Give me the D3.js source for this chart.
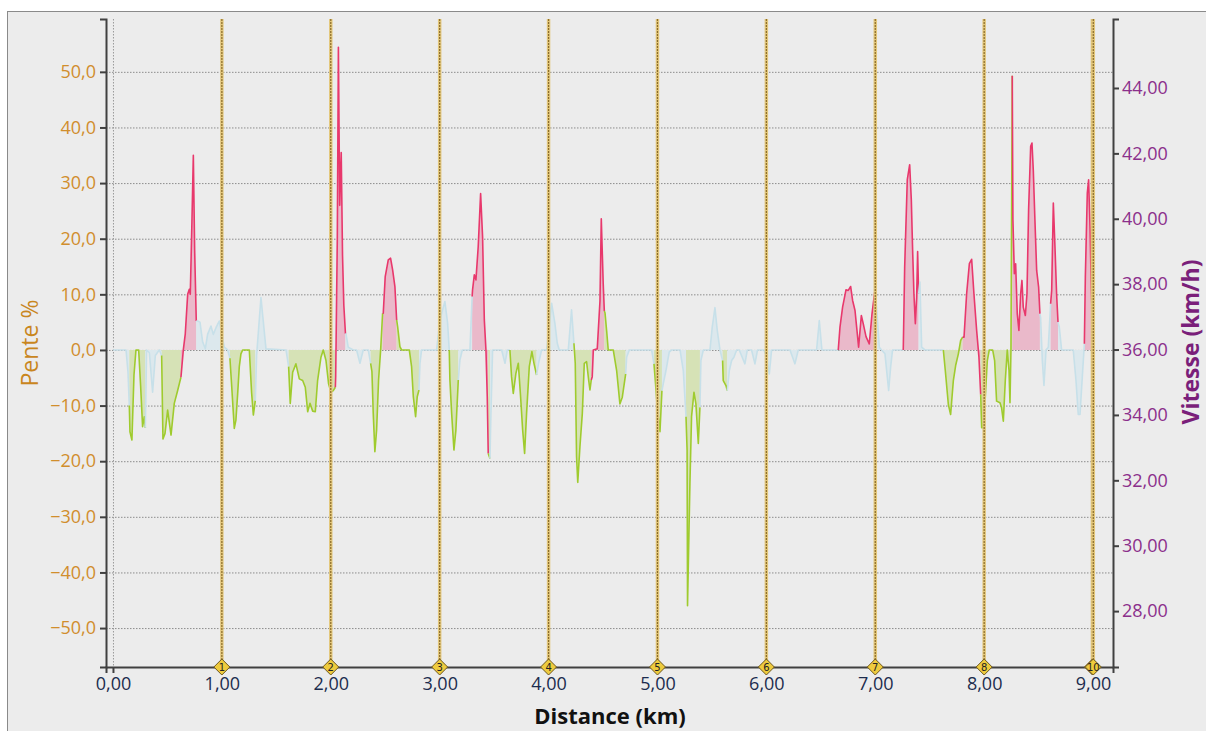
<!DOCTYPE html>
<html>
<head>
<meta charset="utf-8">
<script src="https://cdn.jsdelivr.net/npm/d3@7"></script>
<style>
  body { margin: 0; background: #fff; font-family: "Open Sans", "Noto Sans", sans-serif; }
</style>
</head>
<body>
<div class="main"></div>
<script>
// Distance (km), slope (%) and colour zone per point: b = flat, g = down, r = up
const km = [
  0.00, 0.12, 0.138, 0.15, 0.156, 0.174, 0.193, 0.211, 0.236, 0.254, 0.272, 0.288, 0.297,
  0.309, 0.334, 0.364, 0.389, 0.425, 0.447, 0.459, 0.478, 0.502, 0.533, 0.563, 0.594, 0.624,
  0.627, 0.646, 0.664, 0.686, 0.701, 0.710, 0.725, 0.738, 0.750, 0.765,
  0.777, 0.799, 0.823, 0.848, 0.869, 0.900, 0.921, 0.946, 0.976, 1.001, 1.022, 1.053, 1.074,
  1.087, 1.114, 1.129, 1.145, 1.160, 1.175, 1.191, 1.252, 1.273, 1.289, 1.307,
  1.319, 1.338, 1.359, 1.380, 1.405, 1.589, 1.613,
  1.628, 1.650, 1.680, 1.711, 1.742, 1.766, 1.788, 1.809, 1.834, 1.858, 1.879, 1.910, 1.931,
  1.956, 1.980, 2.002, 2.023, 2.042,
  2.045, 2.060, 2.070, 2.082, 2.096, 2.108, 2.120, 2.135,
  2.140, 2.160, 2.207, 2.237, 2.268, 2.298, 2.344, 2.366,
  2.378, 2.390, 2.405, 2.421, 2.439, 2.458, 2.476,
  2.482, 2.500, 2.528, 2.549, 2.568, 2.589, 2.605,
  2.614, 2.635, 2.650, 2.721, 2.742, 2.758, 2.779, 2.794, 2.810,
  2.819, 2.834, 2.972, 3.002, 3.048, 3.073, 3.088,
  3.094, 3.110, 3.131, 3.149, 3.171,
  3.186, 3.208, 3.278, 3.298,
  3.302, 3.318, 3.333, 3.354, 3.376, 3.394, 3.410, 3.425, 3.437, 3.446,
  3.462, 3.470, 3.486, 3.569, 3.600, 3.621, 3.645,
  3.660, 3.676, 3.700, 3.722, 3.743, 3.762, 3.780, 3.798, 3.823, 3.847, 3.866, 3.890,
  3.908, 3.936, 3.982, 4.028, 4.058, 4.080, 4.098, 4.181, 4.211, 4.233,
  4.245, 4.257, 4.268, 4.288, 4.310, 4.328, 4.349, 4.368, 4.380, 4.392,
  4.401, 4.411, 4.447, 4.472, 4.484, 4.502, 4.512,
  4.518, 4.533, 4.548, 4.594, 4.625, 4.655, 4.677, 4.708,
  4.717, 4.741, 4.946, 4.968,
  4.980, 4.998, 5.023, 5.041,
  5.053, 5.078, 5.108, 5.130, 5.207, 5.237, 5.262,
  5.272, 5.276, 5.298, 5.313, 5.335, 5.353, 5.375, 5.390,
  5.399, 5.421, 5.482, 5.503, 5.528, 5.549, 5.574, 5.598,
  5.604, 5.629, 5.641,
  5.660, 5.681, 5.702, 5.727, 5.751, 5.803, 5.825, 5.864, 5.895, 5.919, 5.978, 6.002, 6.027,
  6.048, 6.217, 6.262, 6.293, 6.461, 6.486, 6.510, 6.660,
  6.676, 6.700, 6.731, 6.752, 6.774, 6.792, 6.814, 6.829, 6.847, 6.872, 6.890, 6.915, 6.945,
  6.970, 6.997,
  7.012, 7.037, 7.058, 7.089, 7.123, 7.141, 7.159, 7.257,
  7.270, 7.294, 7.316, 7.331, 7.343, 7.355, 7.368, 7.380, 7.389, 7.398,
  7.410, 7.426, 7.456, 7.625,
  7.643, 7.671, 7.692, 7.717, 7.738, 7.763, 7.784, 7.802,
  7.815, 7.839, 7.864, 7.885, 7.906, 7.931, 7.952, 7.968,
  7.977, 7.992, 8.010, 8.029, 8.047, 8.078, 8.096, 8.114, 8.145, 8.160, 8.176, 8.194, 8.212,
  8.228, 8.237, 8.246, 8.258,
  8.264, 8.277, 8.289, 8.304, 8.319, 8.335, 8.347, 8.359, 8.378, 8.393, 8.408, 8.427, 8.439,
  8.451, 8.466, 8.482, 8.500, 8.512,
  8.518, 8.534, 8.549, 8.568, 8.589, 8.610,
  8.620, 8.635, 8.650, 8.665, 8.678,
  8.690, 8.711, 8.818, 8.843, 8.864, 8.880, 8.901, 8.920,
  8.929, 8.947, 8.959, 8.972, 8.984, 8.995
]
const pente = [
  0, 0, -4, -10, -14.7, -16.2, -4.5, 0, 0, -6.5, -13.8, -12, -14,
  0, -0.5, -7.6, -1, 0, -1, -16, -15, -10.8, -15.3, -9.6, -7.3, -4.9,
  -4.3, 0, 2.9, 10, 10.9, 10, 23, 35, 18, 5.2,
  5.2, 5, 1.5, 0.2, 2.8, 4.3, 2.8, 4, 5.2, 2.8, 0.5, 0, -1.5,
  -5.5, -14.1, -12.6, -7.9, -3, -0.7, 0, 0, -7.7, -11.7, -9.1,
  -1, 4, 9.4, 5.2, 0.2, 0, -3,
  -9.6, -4, -2.5, -5.2, -5.5, -6.7, -11.1, -9.6, -11.0, -11.1, -5.5, -1.3, 0,
  -1.9, -6.1, -7.6, -7.3, -6.7,
  -4.9, 20, 54.4, 26, 35.5, 17, 8, 2.9,
  2.9, 0.5, 0, 0, -2.4, 0, 0, -2.4,
  -3.9, -11.4, -18.3, -14.4, -5.4, 0, 6.6,
  6.6, 13.2, 16.2, 16.5, 14.4, 11.4, 5.4,
  4.2, 0.6, 0, 0, -3, -8.4, -12, -8.4, -7.2,
  -2.4, 0, 0, 5.4, 8.7, 4.8, 0,
  -5.4, -11.4, -18, -14.4, -5.4,
  -1.8, 0, 0, 9.6,
  10.8, 13.5, 12.6, 18.6, 28.1, 20.4, 5.4, 0, -8.4, -18.6,
  -19.5, -12, 0, 0, -2.4, 0, 0,
  -4.8, -7.8, -4.2, -2.4, -8.4, -14.4, -18.6, -11.4, -3, -0.3, -2.4, -4.5,
  -2.4, 0, 0, 8.4, 4.8, 1.2, 0, 0, 7.2, 1.2,
  -2.4, -19.2, -23.8, -17.4, -11.4, -2.4, -2.1, -5.4, -7.2, -5.4,
  -4.8, 0, 0.2, 8.8, 23.6, 11.8, 7,
  6.7, 3.5, 0, 0, -3.7, -9.7, -8.5, -4.3,
  -1.3, 0, 0, -2.5,
  -5.5, -10.3, -14.7, -7.3,
  -6.1, -3.7, -0.4, 0, 0, -3.7, -12,
  -18, -46, -24, -12, -7.6, -9.7, -16.8, -10.3,
  -1.9, 0, 0, 4.1, 7.6, 3.5, 0, -1.9,
  -5.5, -6.4, -7.3,
  -3.7, -1.9, -1.3, 0, 0, -2.5, 0, 0, -2.5, 0, 0, -1.3, -4.3,
  0, 0, -2.5, 0, 0, 5.3, 0, 0,
  4.1, 7.7, 10.8, 10.7, 11.4, 8.9, 7.1, 4.1, 0.5, 6.2, 4.7, 2.4, 1.1,
  6.5, 10.7,
  7.7, 0.5, 0, -0.7, -7.3, -3.1, 0, 0,
  14.9, 30.6, 33.3, 27, 18, 10.1, 4.7, 9.5, 17.7, 10.1,
  12.2, 0.5, 0, 0,
  -3.7, -9.8, -11.6, -5.5, -2.8, -0.7, 1.7, 2.3,
  2.3, 10.1, 15.5, 16.3, 10.1, 3.5, -1.3, -8,
  -14, -14, -8.6, -1.9, 0, 0, -1.9, -9.2, -9.5, -10.4, -12.8, -5.5, 0,
  -3.7, -9.5, 0, 49.3,
  23.4, 13.7, 15.5, 6.5, 3.5, 10.1, 12.5, 7.7, 6.2, 10.1, 25.2, 36.6, 37.2,
  32.4, 23.4, 14.3, 11.3, 6.5,
  5.9, -1.9, -6.4, 0, 0.5, 8.3,
  10.7, 26.4, 18.6, 10.1, 5,
  4.1, 0, 0, -5.5, -11.6, -11.6, -4.9, 1.1,
  13.1, 28.2, 30.6, 22.2, 10.7, 4
]
const zone = [
  "b","b","b","b","g","g","g","g","g","g","g","g","g",
  "b","b","b","b","b","b","g","g","g","g","g","g","g",
  "r","r","r","r","r","r","r","r","r","r",
  "b","b","b","b","b","b","b","b","b","b","b","b","b",
  "g","g","g","g","g","g","g","g","g","g","g",
  "b","b","b","b","b","b","b",
  "g","g","g","g","g","g","g","g","g","g","g","g","g",
  "g","g","g","g","g",
  "r","r","r","r","r","r","r","r",
  "b","b","b","b","b","b","b","b",
  "g","g","g","g","g","g","g",
  "r","r","r","r","r","r","r",
  "g","g","g","g","g","g","g","g","g",
  "b","b","b","b","b","b","b",
  "g","g","g","g","g",
  "b","b","b","b",
  "r","r","r","r","r","r","r","r","r","r",
  "g","b","b","b","b","b","b",
  "g","g","g","g","g","g","g","g","g","g","g","g",
  "b","b","b","b","b","b","b","b","b","b",
  "g","g","g","g","g","g","g","g","g","g",
  "r","r","r","r","r","r","r",
  "g","g","g","g","g","g","g","g",
  "b","b","b","b",
  "g","g","g","g",
  "b","b","b","b","b","b","b",
  "g","g","g","g","g","g","g","g",
  "b","b","b","b","b","b","b","b",
  "g","g","g",
  "b","b","b","b","b","b","b","b","b","b","b","b","b",
  "b","b","b","b","b","b","b","b",
  "r","r","r","r","r","r","r","r","r","r","r","r","r",
  "r","r",
  "b","b","b","b","b","b","b","b",
  "r","r","r","r","r","r","r","r","r","r",
  "b","b","b","b",
  "g","g","g","g","g","g","g","g",
  "r","r","r","r","r","r","r","r",
  "g","g","g","g","g","g","g","g","g","g","g","g","g",
  "g","g","g","g",
  "r","r","r","r","r","r","r","r","r","r","r","r","r",
  "r","r","r","r","r",
  "b","b","b","b","b","b",
  "r","r","r","r","r",
  "b","b","b","b","b","b","b","b",
  "r","r","r","r","r","r"
]

// Lap markers
const lapKm = [1, 2, 3, 4, 5, 6, 7, 8, 8.994, 9.002]
const lapLabels = ["1", "2", "3", "4", "5", "6", "7", "8", "9", "10"]

// Axis ticks
const penteTicks = [-50, -40, -30, -20, -10, 0, 10, 20, 30, 40, 50]
const vitesseTicks = [28, 30, 32, 34, 36, 38, 40, 42, 44]
const kmTicks = [0, 1, 2, 3, 4, 5, 6, 7, 8, 9]

const width = 1206
const height = 731
const margin = ({top: 19, right: 93, bottom: 64, left: 106})

const x = d3.scaleLinear()
  .domain([-0.064, 9.183])
  .range([margin.left, width - margin.right])

const y = d3.scaleLinear()
  .domain([-57, 59.5])
  .range([height - margin.bottom, margin.top])

// speed axis shares the zero line with the slope axis (36 km/h)
const y2 = d3.scaleLinear()
  .domain([26.29, 46.11])
  .range([height - margin.bottom, margin.top])

const colors = {
  r: {line: "#e8386c", fill: "#eab9ca"},
  g: {line: "#9fcb2e", fill: "#d6e2b6"},
  b: {line: "#c7e0e9", fill: "#dce8ed"}
}

const fmt1 = d => d3.format(".1f")(d).replace(".", ",")
const fmt2 = d => d3.format(".2f")(d).replace(".", ",")

const svg = d3.select(".main")
  .append("svg")
    .attr("width", width)
    .attr("height", height)
    .style("display", "block")

// panel
svg.append("rect")
  .attr("x", 7.5).attr("y", 11.5)
  .attr("width", width).attr("height", height)
  .attr("fill", "#ececec")
  .attr("stroke", "#8a8a8a")

svg.append("clipPath")
  .attr("id", "plotClip")
  .append("rect")
    .attr("x", margin.left).attr("y", margin.top)
    .attr("width", width - margin.right - margin.left)
    .attr("height", height - margin.bottom - margin.top)

// Gridlines
svg.append("g")
  .selectAll("line")
  .data(penteTicks)
  .join("line")
    .attr("x1", margin.left).attr("x2", width - margin.right)
    .attr("y1", d => y(d) + 0.5).attr("y2", d => y(d) + 0.5)
    .attr("stroke", "#8c8c8c")
    .attr("stroke-dasharray", "1.5,1.5")

svg.append("g")
  .selectAll("line")
  .data(kmTicks)
  .join("line")
    .attr("x1", d => x(d) + 0.5).attr("x2", d => x(d) + 0.5)
    .attr("y1", margin.top).attr("y2", height - margin.bottom)
    .attr("stroke", "#9a9a9a")
    .attr("stroke-dasharray", "1.5,1.5")

// Build runs of same colour zone (each run starts at the last point of the previous one)
const pts = km.map((d, i) => ({km: d, v: pente[i], z: zone[i]}))
const runs = []
let cur = null
pts.forEach((p, i) => {
  if (!cur || cur.z !== p.z) {
    cur = {z: p.z, pts: i > 0 ? [pts[i - 1]] : []}
    runs.push(cur)
  }
  cur.pts.push(p)
})

const area = d3.area()
  .x(d => x(d.km))
  .y0(y(0))
  .y1(d => y(d.v))

const line = d3.line()
  .x(d => x(d.km))
  .y(d => y(d.v))

const plot = svg.append("g").attr("clip-path", "url(#plotClip)")

plot.append("g")
  .selectAll("path")
  .data(runs)
  .join("path")
    .attr("d", d => area(d.pts))
    .attr("fill", d => colors[d.z].fill)

plot.append("g")
  .selectAll("path")
  .data(runs)
  .join("path")
    .attr("d", d => line(d.pts))
    .attr("fill", "none")
    .attr("stroke", d => colors[d.z].line)
    .attr("stroke-width", 1.6)
    .attr("stroke-linejoin", "round")

// Lap lines
const laps = svg.append("g")
  .selectAll("g")
  .data(lapKm)
  .join("g")
    .attr("transform", d => `translate(${x(d)}, 0)`)

laps.append("line")
  .attr("y1", margin.top).attr("y2", height - margin.bottom)
  .attr("stroke", "#e3c77c")
  .attr("stroke-width", 3.5)

laps.append("line")
  .attr("y1", margin.top).attr("y2", height - margin.bottom)
  .attr("stroke", "#8a6c2a")
  .attr("stroke-width", 1.2)
  .attr("stroke-dasharray", "2,1")

// Axes
svg.append("g")
  .attr("transform", `translate(${margin.left},0)`)
  .call(d3.axisLeft(y).tickValues(penteTicks).tickFormat(fmt1).tickSize(6).tickPadding(4))
  .call(g => g.selectAll("text").attr("fill", "#d18e2c").attr("font-size", 18)
    .attr("font-family", "Open Sans"))

svg.append("g")
  .attr("transform", `translate(${width - margin.right},0)`)
  .call(d3.axisRight(y2).tickValues(vitesseTicks).tickFormat(fmt2).tickSize(6).tickPadding(3))
  .call(g => g.selectAll("text").attr("fill", "#8b2f8b").attr("font-size", 18)
    .attr("font-family", "Open Sans"))

svg.append("g")
  .attr("transform", `translate(0,${height - margin.bottom})`)
  .call(d3.axisBottom(x).tickValues(kmTicks).tickFormat(fmt2).tickSize(6).tickPadding(4))
  .call(g => g.selectAll("text").attr("fill", "#1c2c4e").attr("font-size", 18)
    .attr("font-family", "Open Sans"))

svg.selectAll(".domain, .tick line")
  .attr("stroke", "#404040")
  .attr("stroke-width", 2)

// Lap diamonds on the distance axis
const diamonds = svg.append("g")
  .selectAll("g")
  .data(lapKm)
  .join("g")
    .attr("transform", d => `translate(${x(d)}, ${height - margin.bottom})`)

diamonds.append("path")
  .attr("d", "M0,-8L8,0L0,8L-8,0Z")
  .attr("fill", "#eecb3e")
  .attr("stroke", "#6e5820")
  .attr("stroke-width", 1)

// a lap number hidden by the next diamond is not written
diamonds.filter((d, i) => i === lapKm.length - 1 || lapKm[i + 1] - d > 0.05)
  .append("text")
    .text(d => lapLabels[lapKm.indexOf(d)])
    .attr("text-anchor", "middle")
    .attr("dy", "0.35em")
    .attr("font-size", 10)
    .attr("font-family", "DejaVu Sans")
    .attr("fill", "#222")

// Axis titles
svg.append("text")
  .text("Pente %")
  .attr("transform", `translate(38, 343) rotate(-90)`)
  .attr("text-anchor", "middle")
  .attr("font-size", 23)
  .attr("font-family", "Open Sans")
  .attr("fill", "#c9861e")

svg.append("text")
  .text("Vitesse (km/h)")
  .attr("transform", `translate(1199, 342) rotate(-90)`)
  .attr("text-anchor", "middle")
  .attr("font-size", 23)
  .attr("font-weight", "bold")
  .attr("font-family", "Open Sans")
  .attr("fill", "#7a1f7a")

svg.append("text")
  .text("Distance (km)")
  .attr("x", 610)
  .attr("y", 724)
  .attr("text-anchor", "middle")
  .attr("font-size", 22)
  .attr("font-weight", "bold")
  .attr("font-family", "Open Sans")
  .attr("fill", "#111")
</script>
</body>
</html>
